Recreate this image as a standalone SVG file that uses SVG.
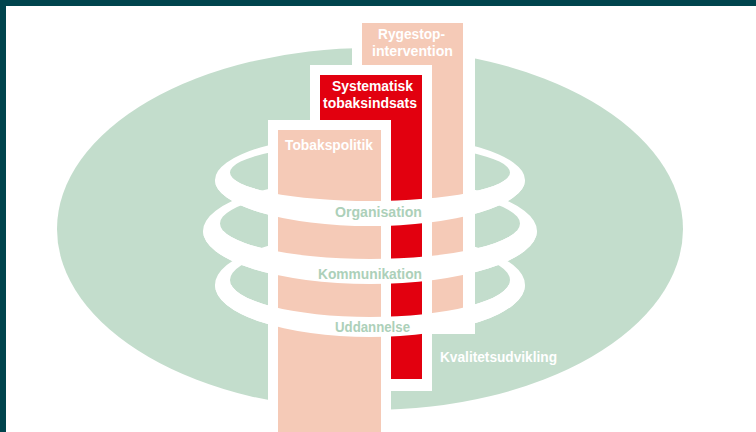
<svg xmlns="http://www.w3.org/2000/svg" width="756" height="432" viewBox="0 0 756 432">
  <style>
    .lbl { font-family: "Liberation Sans", Arial, sans-serif; font-weight: bold; font-size: 14px; fill: #ffffff; }
    .ring-lbl { font-family: "Liberation Sans", Arial, sans-serif; font-weight: bold; font-size: 14px; fill: #acd0b9; }
    .salmon { fill: #f5cab7; }
    .red { fill: #e2000f; }
    .white { fill: #ffffff; }
    .ring { fill: #ffffff; fill-rule: evenodd; }
  </style>
  <defs>
    <path id="ring1" d="M215,180 a155,46 0 1,0 310,0 a155,46 0 1,0 -310,0 Z M230,172.5 a140,28.5 0 1,0 280,0 a140,28.5 0 1,0 -280,0 Z"/>
    <path id="ring2" d="M203,231 a167,53 0 1,0 334,0 a167,53 0 1,0 -334,0 Z M220,223.5 a150,35.5 0 1,0 300,0 a150,35.5 0 1,0 -300,0 Z"/>
    <path id="ring3" d="M215,285 a155,52 0 1,0 310,0 a155,52 0 1,0 -310,0 Z M230,280 a140,37 0 1,0 280,0 a140,37 0 1,0 -280,0 Z"/>
    <clipPath id="front1"><rect x="180" y="180" width="380" height="60"/></clipPath>
    <clipPath id="front2"><rect x="180" y="231" width="380" height="70"/></clipPath>
    <clipPath id="front3"><rect x="180" y="285" width="380" height="70"/></clipPath>
  </defs>

  <rect x="0" y="0" width="756" height="432" fill="#ffffff"/>
  <rect x="0" y="0" width="756" height="6" fill="#00444d"/>
  <rect x="0" y="0" width="6" height="432" fill="#00444d"/>

  <g id="kvalitetsudvikling">
    <ellipse cx="370" cy="229" rx="313" ry="181" fill="#c3ddcc"/>
  </g>

  <g id="rings-back">
    <use href="#ring1" class="ring"/>
    <use href="#ring2" class="ring"/>
    <use href="#ring3" class="ring"/>
  </g>

  <g id="rygestop">
    <rect class="white" x="352" y="13" width="123" height="321"/>
    <rect class="salmon" x="362" y="23" width="101" height="299"/>
  </g>

  <g id="systematisk">
    <rect class="white" x="310" y="65" width="122" height="326"/>
    <rect class="red" x="320" y="75" width="102" height="304"/>
  </g>

  <g id="tobakspolitik">
    <rect class="white" x="268" y="120" width="123" height="312"/>
    <rect class="salmon" x="278" y="130" width="103" height="302"/>
  </g>

  <g id="rings-front">
    <use href="#ring1" class="ring" clip-path="url(#front1)"/>
    <use href="#ring2" class="ring" clip-path="url(#front2)"/>
    <use href="#ring3" class="ring" clip-path="url(#front3)"/>
  </g>

  <g id="connectors"/>

  <g id="labels">
    <text class="lbl" x="378" y="39" textLength="67" lengthAdjust="spacingAndGlyphs">Rygestop-</text>
    <text class="lbl" x="372" y="56" textLength="81" lengthAdjust="spacingAndGlyphs">intervention</text>
    <text class="lbl" x="332" y="91" textLength="81" lengthAdjust="spacingAndGlyphs">Systematisk</text>
    <text class="lbl" x="323" y="108" textLength="94" lengthAdjust="spacingAndGlyphs">tobaksindsats</text>
    <text class="lbl" x="285" y="150" textLength="88" lengthAdjust="spacingAndGlyphs">Tobakspolitik</text>
    <text class="ring-lbl" x="335" y="217" textLength="87" lengthAdjust="spacingAndGlyphs">Organisation</text>
    <text class="ring-lbl" x="318" y="279" textLength="104" lengthAdjust="spacingAndGlyphs">Kommunikation</text>
    <text class="ring-lbl" x="335" y="332" textLength="75" lengthAdjust="spacingAndGlyphs">Uddannelse</text>
    <text class="lbl" x="440" y="362" textLength="117" lengthAdjust="spacingAndGlyphs">Kvalitetsudvikling</text>
  </g>
</svg>
